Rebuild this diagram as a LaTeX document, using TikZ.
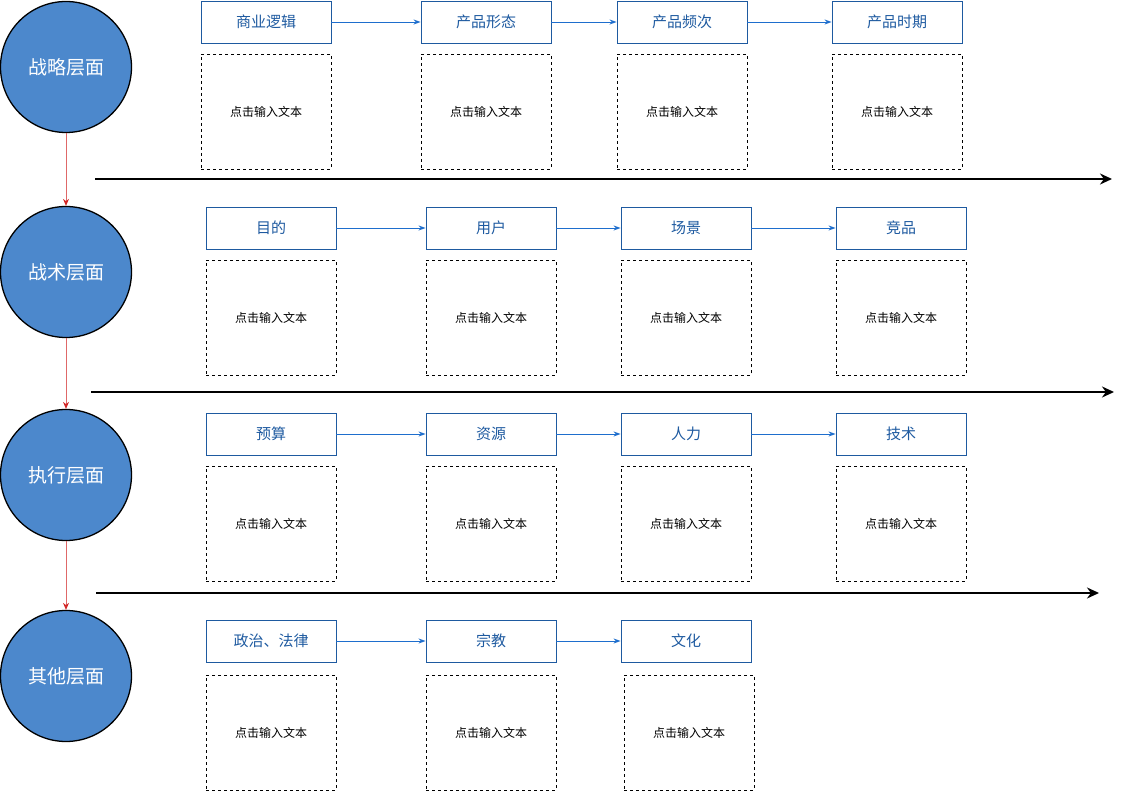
\documentclass[tikz,border=0pt]{standalone}
\usepackage{fontspec}
\setmainfont{Noto Sans CJK SC}
\usetikzlibrary{arrows.meta}
\definecolor{circfill}{RGB}{76,136,204}
\definecolor{boxblue}{RGB}{30,90,160}
\definecolor{arrblue}{RGB}{30,110,205}
\definecolor{redarr}{RGB}{210,40,40}
\tikzset{
  layer/.style={circle,draw=black,line width=1.3pt,fill=circfill,minimum size=131pt,inner sep=0pt,text=white,font=\fontsize{19}{22}\selectfont},
  headbox/.style={draw=boxblue,line width=0.9pt,minimum width=130pt,minimum height=42pt,inner sep=0pt,text=boxblue,font=\fontsize{15}{17}\selectfont},
  notebox/.style={draw=black,dashed,line width=0.7pt,minimum width=130pt,minimum height=115pt,inner sep=0pt,font=\fontsize{12}{14}\selectfont},
  flow/.style={draw=arrblue,line width=0.9pt,-{Stealth[length=7pt,width=5pt]}},
  down/.style={draw=redarr!70,line width=0.9pt,-{Stealth[length=7pt,width=6pt,color=redarr,fill=redarr]}},
  axis/.style={draw=black,line width=1.8pt,-{Stealth[length=12pt,width=11pt]}}
}
\begin{document}
\begin{tikzpicture}[x=1pt,y=-1pt]
\useasboundingbox (0,0) rectangle (1125,791);
% circles
\node[layer] (c1) at (66,67) {战略层面};
\node[layer] (c2) at (66,272) {战术层面};
\node[layer] (c3) at (66,475) {执行层面};
\node[layer] (c4) at (66,676) {其他层面};
\draw[down] (c1) -- (c2);
\draw[down] (c2) -- (c3);
\draw[down] (c3) -- (c4);
% row 1
\node[headbox] (a1) at (266,22) {商业逻辑};
\node[headbox] (a2) at (486,22) {产品形态};
\node[headbox] (a3) at (682,22) {产品频次};
\node[headbox] (a4) at (897,22) {产品时期};
\draw[flow] (a1) -- (a2);
\draw[flow] (a2) -- (a3);
\draw[flow] (a3) -- (a4);
\node[notebox] (n11) at (266,111.5) {点击输入文本};
\node[notebox] (n12) at (486,111.5) {点击输入文本};
\node[notebox] (n13) at (682,111.5) {点击输入文本};
\node[notebox] (n14) at (897,111.5) {点击输入文本};
\coordinate (s1) at (95,179);
\coordinate (e1) at (1112,179);
\draw[axis] (s1) -- (e1);
% row 2
\node[headbox] (b1) at (271,228) {目的};
\node[headbox] (b2) at (491,228) {用户};
\node[headbox] (b3) at (686,228) {场景};
\node[headbox] (b4) at (901,228) {竞品};
\draw[flow] (b1) -- (b2);
\draw[flow] (b2) -- (b3);
\draw[flow] (b3) -- (b4);
\node[notebox] (n21) at (271,318) {点击输入文本};
\node[notebox] (n22) at (491,318) {点击输入文本};
\node[notebox] (n23) at (686,318) {点击输入文本};
\node[notebox] (n24) at (901,318) {点击输入文本};
\coordinate (s2) at (91,392);
\coordinate (e2) at (1114,392);
\draw[axis] (s2) -- (e2);
% row 3
\node[headbox] (d1) at (271,434) {预算};
\node[headbox] (d2) at (491,434) {资源};
\node[headbox] (d3) at (686,434) {人力};
\node[headbox] (d4) at (901,434) {技术};
\draw[flow] (d1) -- (d2);
\draw[flow] (d2) -- (d3);
\draw[flow] (d3) -- (d4);
\node[notebox] (n31) at (271,523.5) {点击输入文本};
\node[notebox] (n32) at (491,523.5) {点击输入文本};
\node[notebox] (n33) at (686,523.5) {点击输入文本};
\node[notebox] (n34) at (901,523.5) {点击输入文本};
\coordinate (s3) at (96,593);
\coordinate (e3) at (1099,593);
\draw[axis] (s3) -- (e3);
% row 4
\node[headbox] (f1) at (271,641) {政治、法律};
\node[headbox] (f2) at (491,641) {宗教};
\node[headbox] (f3) at (686,641) {文化};
\draw[flow] (f1) -- (f2);
\draw[flow] (f2) -- (f3);
\node[notebox] (n41) at (271,732.5) {点击输入文本};
\node[notebox] (n42) at (491,732.5) {点击输入文本};
\node[notebox] (n43) at (689,732.5) {点击输入文本};
\end{tikzpicture}
\end{document}
